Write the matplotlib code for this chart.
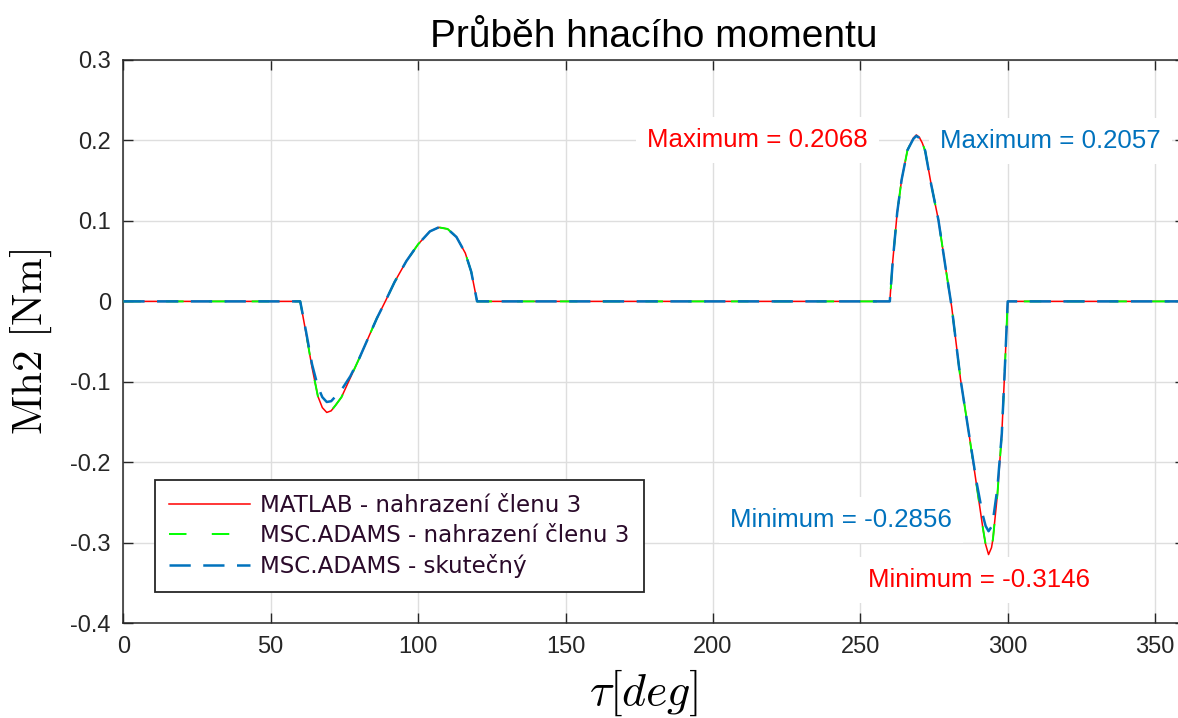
import matplotlib
matplotlib.use('Agg')
import matplotlib.pyplot as plt

# uhel tau [deg]
deg = [0, 60, 62, 64, 66, 67.5, 69, 70.5, 72, 74, 77, 80, 83, 86, 89, 92, 96, 100,
       104, 107, 110, 113, 116, 118, 120, 260, 261, 262.5, 264, 266, 268, 269, 270,
       271, 272, 274, 276.5, 279, 281, 284, 287, 289.5, 291.5, 292.5, 293.5, 294.5,
       295, 296.5, 298, 299, 300, 360]

# MATLAB - nahrazeni clenu 3
mh_matlab = [0, 0, -0.040, -0.082, -0.118, -0.132, -0.138, -0.136, -0.129, -0.119,
             -0.095, -0.071, -0.046, -0.021, 0.001, 0.024, 0.050, 0.071, 0.087, 0.092,
             0.090, 0.080, 0.060, 0.037, 0, 0, 0.050, 0.110, 0.151, 0.188, 0.203,
             0.2068, 0.204, 0.197, 0.187, 0.146, 0.101, 0.040, -0.007, -0.097, -0.168,
             -0.230, -0.280, -0.302, -0.3146, -0.306, -0.295, -0.240, -0.164, -0.085,
             0, 0]

# MSC.ADAMS - nahrazeni clenu 3
mh_adams_nahr = [0, 0, -0.040, -0.082, -0.118, -0.132, -0.138, -0.136, -0.129, -0.119,
                 -0.095, -0.071, -0.046, -0.021, 0.001, 0.024, 0.050, 0.071, 0.087, 0.092,
                 0.090, 0.080, 0.060, 0.037, 0, 0, 0.050, 0.110, 0.151, 0.188, 0.203,
                 0.2066, 0.204, 0.197, 0.187, 0.146, 0.101, 0.040, -0.007, -0.097, -0.168,
                 -0.230, -0.280, -0.302, -0.3146, -0.306, -0.295, -0.240, -0.164, -0.085,
                 0, 0]

# MSC.ADAMS - skutecny
mh_adams_skut = [0, 0, -0.038, -0.078, -0.106, -0.119, -0.125, -0.124, -0.118, -0.110,
                 -0.093, -0.071, -0.046, -0.021, 0.001, 0.024, 0.050, 0.071, 0.087, 0.092,
                 0.090, 0.080, 0.060, 0.037, 0, 0, 0.050, 0.110, 0.151, 0.188, 0.202,
                 0.2057, 0.203, 0.197, 0.187, 0.146, 0.101, 0.040, -0.007, -0.097, -0.168,
                 -0.226, -0.265, -0.279, -0.2856, -0.280, -0.272, -0.232, -0.164, -0.085,
                 0, 0]

x_ticks = [0, 50, 100, 150, 200, 250, 300, 350]
y_ticks = [-0.4, -0.3, -0.2, -0.1, 0, 0.1, 0.2, 0.3]
y_ticklabels = ['-0.4', '-0.3', '-0.2', '-0.1', '0', '0.1', '0.2', '0.3']

legend_labels = ['MATLAB - nahrazení členu 3',
                 'MSC.ADAMS - nahrazení členu 3',
                 'MSC.ADAMS - skutečný']

plt.rcParams['mathtext.fontset'] = 'cm'
plt.rcParams['font.family'] = ['Liberation Sans', 'DejaVu Sans']

RED = '#ff0000'
GREEN = '#00ff00'
BLUE = '#0072bd'
AX_COL = '#262626'

fig = plt.figure(figsize=(11.78, 7.18), dpi=100)
ax = fig.add_axes([0.1047, 0.1319, 0.9009, 0.7846])

ax.plot(deg, mh_matlab, color=RED, lw=1.1, label=legend_labels[0], zorder=3)
ax.plot(deg, mh_adams_nahr, color=GREEN, lw=1.4, linestyle=(0, (9, 13)),
        label=legend_labels[1], zorder=4)
ax.plot(deg, mh_adams_skut, color=BLUE, lw=1.8, linestyle=(0, (8.5, 5)),
        label=legend_labels[2], zorder=5)

ax.set_xlim(0, 360)
ax.set_ylim(-0.4, 0.3)
ax.set_xticks(x_ticks)
ax.set_yticks(y_ticks)
ax.set_yticklabels(y_ticklabels)
ax.tick_params(direction='in', length=7, width=1, color=AX_COL, labelcolor=AX_COL,
               labelsize=17, top=True, right=True, pad=9)
for s in ax.spines.values():
    s.set_color(AX_COL)
    s.set_linewidth(1.1)
ax.grid(True, color='#dedede', lw=1)
ax.set_axisbelow(True)

ax.set_title('Průběh hnacího momentu', fontsize=28, color='black', pad=9)
ax.set_xlabel(r'$\tau[deg]$', fontsize=33)
ax.xaxis.set_label_coords(0.4906, -0.078)
ax.set_ylabel(r'$\mathrm{Mh2}\ [\mathrm{Nm}]$', fontsize=31, labelpad=12)

bb = dict(facecolor='white', edgecolor='none', pad=8)
ax.text(252.6, 0.2004, 'Maximum = 0.2068', color=RED, fontsize=18.6,
        ha='right', va='center', bbox=bb, zorder=6)
ax.text(277.0, 0.199, 'Maximum = 0.2057', color=BLUE, fontsize=18.6,
        ha='left', va='center', bbox=bb, zorder=6)
ax.text(205.8, -0.2718, 'Minimum = -0.2856', color=BLUE, fontsize=18.6,
        ha='left', va='center', bbox=bb, zorder=6)
ax.text(252.6, -0.3463, 'Minimum = -0.3146', color=RED, fontsize=18.6,
        ha='left', va='center', bbox=bb, zorder=6)

leg = ax.legend(loc='lower left', bbox_to_anchor=(0.0299, 0.0556), borderaxespad=0,
                fancybox=False, edgecolor=AX_COL, framealpha=1,
                prop={'family': 'DejaVu Sans', 'size': 16.6},
                handlelength=3.5, handletextpad=0.45, labelspacing=0.3,
                borderpad=0.62)
leg.get_frame().set_linewidth(1.3)
for t in leg.get_texts():
    t.set_color('#2a0a2a')

fig.savefig('out.png', dpi=100)
